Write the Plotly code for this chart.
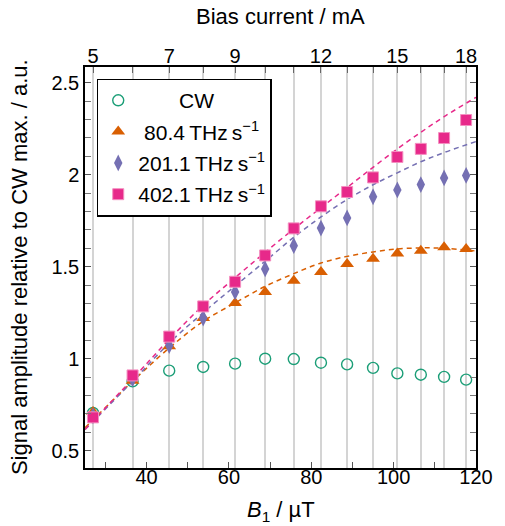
import plotly.graph_objects as go

# ---- data ----
b1 = [27.0, 36.6, 45.5, 53.75, 61.5, 68.8, 75.75, 82.35, 88.7, 95.0, 100.9, 106.6, 112.25, 117.6]
bias_current = [5, 6, 7, 8, 9, 10, 11, 12, 13, 14, 15, 16, 17, 18]
bias_labelled = [5, 7, 9, 12, 15, 18]

cw = [0.705, 0.877, 0.935, 0.955, 0.973, 1.000, 0.998, 0.978, 0.969, 0.950, 0.920, 0.913, 0.901, 0.886]
r80 = [0.71, 0.88, 1.067, 1.221, 1.303, 1.363, 1.424, 1.471, 1.515, 1.543, 1.572, 1.587, 1.605, 1.596]
r201 = [0.69, 0.89, 1.071, 1.221, 1.363, 1.488, 1.614, 1.710, 1.765, 1.880, 1.917, 1.946, 1.982, 1.996]
r402 = [0.681, 0.909, 1.120, 1.284, 1.418, 1.561, 1.708, 1.828, 1.906, 1.985, 2.096, 2.140, 2.199, 2.297]

fit_b1 = [25.05, 36.6, 45.5, 53.75, 61.5, 68.8, 75.75, 82.35, 88.7, 95.0, 100.9, 106.6, 112.25, 120.0]
fit80 = [0.625, 0.877, 1.058, 1.203, 1.303, 1.393, 1.462, 1.52, 1.556, 1.58, 1.596, 1.602, 1.60, 1.585]
fit201 = [0.615, 0.877, 1.085, 1.25, 1.395, 1.53, 1.66, 1.77, 1.865, 1.945, 2.01, 2.07, 2.12, 2.18]
fit402 = [0.615, 0.89, 1.105, 1.29, 1.44, 1.578, 1.705, 1.82, 1.93, 2.04, 2.14, 2.23, 2.315, 2.42]

names = ["CW", "80.4\u2009THz\u2009s<sup>\u22121</sup>", "201.1\u2009THz\u2009s<sup>\u22121</sup>",
         "402.1\u2009THz\u2009s<sup>\u22121</sup>"]
colors = ["#1b9e77", "#d95f02", "#7570b3", "#e7298a"]

FONT = "Liberation Sans, Arial, sans-serif"
FS = 20      # tick labels
FT = 22      # axis titles
FL = 21      # legend

# top-axis positions: labelled ones are major ticks, the rest minor
top_major = [b for b, c in zip(b1, bias_current) if c in bias_labelled]
top_minor = [b for b, c in zip(b1, bias_current) if c not in bias_labelled]

fig = go.Figure()

# fitted dashed curves
for ys, c in [(fit80, colors[1]), (fit201, colors[2]), (fit402, colors[3])]:
    fig.add_trace(go.Scatter(x=fit_b1, y=ys, mode="lines",
                             line=dict(color=c, width=1.5, dash="5px,4px", shape="spline"),
                             showlegend=False, hoverinfo="skip"))

# measured points
fig.add_trace(go.Scatter(x=b1, y=cw, mode="markers", name="\u00a0" * 7 + names[0], legendgroup="a",
                         marker=dict(symbol="circle-open", size=11, color=colors[0],
                                     line=dict(width=1.4, color=colors[0]))))
fig.add_trace(go.Scatter(x=b1, y=r80, mode="markers", name="\u00a0" + names[1], legendgroup="b",
                         marker=dict(symbol="triangle-up", size=12, color=colors[1], line=dict(width=0))))
fig.add_trace(go.Scatter(x=b1, y=r201, mode="markers", name=names[2], legendgroup="c",
                         marker=dict(symbol="diamond-tall", size=12, color=colors[2], line=dict(width=0))))
fig.add_trace(go.Scatter(x=b1, y=r402, mode="markers", name=names[3], legendgroup="d",
                         marker=dict(symbol="square", size=11, color=colors[3],
                                     line=dict(width=1, color="#f48fc0"))))

# invisible trace on the top axis so it renders
fig.add_trace(go.Scatter(x=b1, y=[None] * len(b1), xaxis="x2", mode="markers",
                         showlegend=False, hoverinfo="skip"))

fig.update_layout(
    width=505, height=526,
    margin=dict(l=85, r=19, t=67, b=58),
    paper_bgcolor="white", plot_bgcolor="white",
    font=dict(family=FONT, size=FS, color="black"),
    showlegend=True,
    legend=dict(x=0.03, y=0.971, xanchor="left", yanchor="top", bgcolor="white",
                bordercolor="black", borderwidth=1.5, font=dict(size=FL), tracegroupgap=1,
                itemwidth=30),
    xaxis=dict(range=[25.05, 120.0], tickmode="linear", tick0=40, dtick=20,
               ticks="inside", ticklen=6, tickcolor="#555555", tickwidth=1,
               minor=dict(tickmode="linear", tick0=30, dtick=20, ticks="inside", ticklen=6,
                          tickcolor="#555555", tickwidth=1, showgrid=False),
               showline=True, linecolor="black", linewidth=1.5, mirror=False,
               showgrid=False, zeroline=False, tickfont=dict(size=FS), ticklabelstandoff=-10),
    xaxis2=dict(range=[25.05, 120.0], overlaying="x", side="top", anchor="y", tickmode="array",
                tickvals=top_major, ticktext=[str(c) for c in bias_labelled],
                ticks="inside", ticklen=6, tickcolor="#666666",
                minor=dict(tickmode="array", tickvals=top_minor, ticks="inside", ticklen=6,
                           tickcolor="#666666", showgrid=True, gridcolor="#d4d4d4", gridwidth=1.5),
                showline=True, linecolor="black", linewidth=1.5,
                showgrid=True, gridcolor="#d4d4d4", gridwidth=1.5, zeroline=False,
                tickfont=dict(size=FS), ticklabelstandoff=-6),
    yaxis=dict(range=[0.406, 2.585], tickmode="linear", tick0=0.5, dtick=0.5,
               ticks="inside", ticklen=6, tickcolor="#555555", tickwidth=1,
               minor=dict(tickmode="linear", tick0=0.4, dtick=0.1, ticks="inside", ticklen=6,
                          tickcolor="#777777", tickwidth=1, showgrid=False),
               showline=True, linecolor="black", linewidth=1.5, mirror="ticks",
               showgrid=False, zeroline=False, tickfont=dict(size=FS)),
    annotations=[
        dict(text="<i>B</i><sub>1</sub> / \u00b5T", xref="paper", yref="paper", x=0.5, y=-0.068,
             xanchor="center", yanchor="top", showarrow=False, font=dict(size=FT)),
        dict(text="Bias current / mA", xref="paper", yref="paper", x=0.5, y=1.0 + 36 / 401,
             xanchor="center", yanchor="bottom", showarrow=False, font=dict(size=FT)),
        dict(text="Signal amplitude relative to CW max. / a.u.", xref="paper", yref="paper",
             x=-(85 - 18) / 400.7, y=0.5, xanchor="center", yanchor="middle", textangle=-90,
             showarrow=False, font=dict(size=FT)),
    ],
)

fig.write_html("out.html", config={"displayModeBar": False},
               post_script="document.body.style.margin='0px';")
